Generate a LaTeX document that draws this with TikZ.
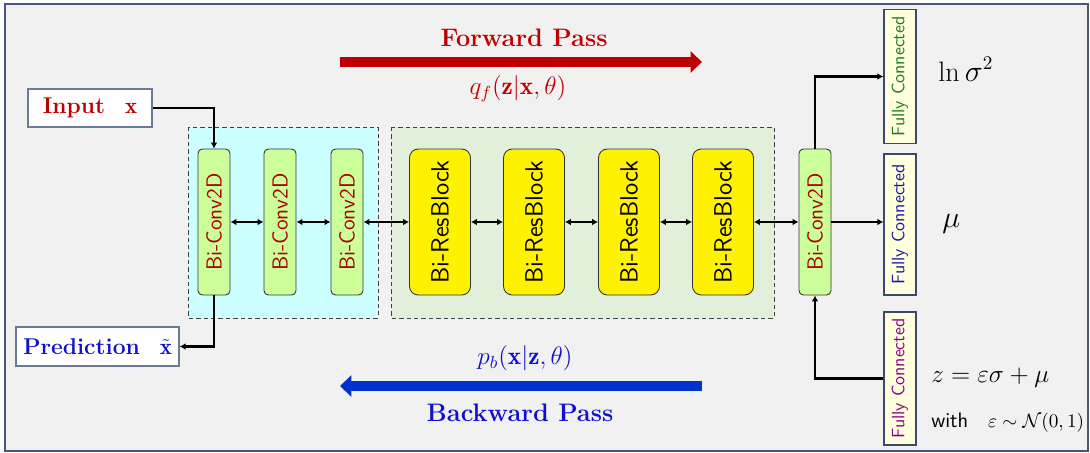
\documentclass[tikz,border=0pt]{standalone}
\usepackage{fontspec}
\usetikzlibrary{arrows.meta}

\definecolor{bgfill}{HTML}{F1F1F1}
\definecolor{framecol}{HTML}{46587A}
\definecolor{cyanzone}{HTML}{CCFFFF}
\definecolor{greenzone}{HTML}{E2EFDA}
\definecolor{convfill}{HTML}{CCFF99}
\definecolor{convtext}{HTML}{A80000}
\definecolor{fcfill}{HTML}{FFFFDD}
\definecolor{fcborder}{HTML}{3A4A6A}
\definecolor{fcgreen}{HTML}{1F7A1F}
\definecolor{fcblue}{HTML}{1A1AA0}
\definecolor{fcpurple}{HTML}{8B008B}
\definecolor{boxborder}{HTML}{6B7B95}
\definecolor{fwdred}{HTML}{C00000}
\definecolor{bwdblue}{HTML}{0033CC}
\definecolor{predblue}{HTML}{1010D0}

\begin{document}
\begin{tikzpicture}[x=0.02cm,y=-0.02cm,
  zone/.style={draw=black!75, dashed, dash pattern=on 2.5pt off 1.7pt, line width=0.5pt},
  conv/.style={draw=black!80, fill=convfill, rounded corners=2.5pt, inner sep=0pt,
    minimum width=0.64cm, minimum height=2.92cm, line width=0.5pt},
  convlbl/.style={rotate=90, font=\sffamily\fontsize{12.4}{14}\selectfont, text=convtext},
  res/.style={draw=black!80, fill=yellow, rounded corners=5pt, inner sep=0pt,
    minimum width=1.22cm, minimum height=2.92cm, line width=0.5pt},
  reslbl/.style={rotate=90, font=\sffamily\fontsize{14.2}{16}\selectfont, text=black},
  fc/.style={draw=fcborder, fill=fcfill, inner sep=0pt, minimum width=0.64cm, line width=0.7pt},
  fclbl/.style={rotate=90, font=\sffamily\fontsize{10.2}{12}\selectfont},
  iobox/.style={draw=boxborder, fill=white, inner sep=0pt, line width=0.7pt},
  link/.style={line width=1.2pt, -{Latex[length=3.4pt,width=3.8pt]}},
  twoway/.style={line width=1.2pt, {Latex[length=3.4pt,width=3.8pt]}-{Latex[length=3.4pt,width=3.8pt]}},
  bigarrow/.style={line width=6pt, -{Triangle[length=6.5pt,width=12pt]}},
  note/.style={anchor=base west, inner sep=0pt}
]
% canvas and frame
\path[use as bounding box] (0,0) rectangle (1090,453);
\draw[line width=0.9pt, draw=framecol, fill=bgfill] (5,4) rectangle (1088,451);

% dashed zones
\draw[zone, fill=cyanzone] (188,127) rectangle (378,318);
\draw[zone, fill=greenzone] (391,127) rectangle (774,318);

% convolution blocks
\node[conv, label={[convlbl]center:Bi-Conv2D}] (c1) at (214,222) {};
\node[conv, label={[convlbl]center:Bi-Conv2D}] (c2) at (280,222) {};
\node[conv, label={[convlbl]center:Bi-Conv2D}] (c3) at (347,222) {};

% residual blocks
\node[res, label={[reslbl]center:Bi-ResBlock}] (r1) at (440,222) {};
\node[res, label={[reslbl]center:Bi-ResBlock}] (r2) at (534,222) {};
\node[res, label={[reslbl]center:Bi-ResBlock}] (r3) at (629,222) {};
\node[res, label={[reslbl]center:Bi-ResBlock}] (r4) at (723,222) {};

% latent convolution
\node[conv, label={[convlbl]center:Bi-Conv2D}] (c4) at (815,222) {};

% fully connected heads
\node[fc, minimum height=2.68cm, label={[fclbl, text=fcgreen]center:Fully Connected}] (fvar) at (900,76.5) {};
\node[fc, minimum height=2.82cm, label={[fclbl, text=fcblue]center:Fully Connected}] (fmu) at (900,224.5) {};
\node[fc, minimum height=2.66cm, label={[fclbl, text=fcpurple]center:Fully Connected}] (fz) at (900,378.5) {};

% input and output boxes
\node[iobox, minimum width=2.48cm, minimum height=0.76cm,
  font=\bfseries\fontsize{13}{15}\selectfont, text=fwdred] (inp) at (90,108) {Input\enspace\ $\mathbf{x}$};
\node[iobox, minimum width=3.26cm, minimum height=0.78cm,
  font=\bfseries\fontsize{13}{15}\selectfont, text=predblue] (pred) at (97.5,346.5) {Prediction\enspace\ $\tilde{\mathbf{x}}$};

% connectors
\draw[link] (inp.east) -| (c1.north);
\draw[link] (c1.south) |- (pred.east);
\draw[twoway] (c1) -- (c2);
\draw[twoway] (c2) -- (c3);
\draw[twoway] (c3) -- (r1);
\draw[twoway] (r1) -- (r2);
\draw[twoway] (r2) -- (r3);
\draw[twoway] (r3) -- (r4);
\draw[twoway] (r4) -- (c4);
\draw[link] (c4.north) |- (fvar.west);
\draw[link] (c4.east) -- (c4.east -| fmu.west);
\draw[link] (fz.west) -| (c4.south);

% forward and backward pass arrows
\coordinate (fwdA) at (340,62);
\coordinate (fwdB) at (702,62);
\coordinate (bwdA) at (702,386);
\coordinate (bwdB) at (340,386);
\draw[bigarrow, draw=fwdred, fill=fwdred] (fwdA) -- (fwdB);
\draw[bigarrow, draw=bwdblue, fill=bwdblue] (bwdA) -- (bwdB);

\node[font=\bfseries\Large, text=fwdred] (fwdtxt) at (524,38) {Forward Pass};
\node[font=\Large, text=fwdred] (qf) at (518,89) {$q_f(\mathbf{z}|\mathbf{x},\theta)$};
\node[font=\Large, text=predblue] (pb) at (525,358) {$p_b(\mathbf{x}|\mathbf{z},\theta)$};
\node[font=\bfseries\Large, text=predblue] (bwdtxt) at (520,413) {Backward Pass};

% latent variable annotations
\node[note, font=\fontsize{16}{19}\selectfont] (lnvar) at (938,81) {$\ln\sigma^2$};
\node[note, font=\fontsize{16}{19}\selectfont] (mulbl) at (942,227) {$\mu$};
\node[note, font=\fontsize{14.5}{17}\selectfont] (zeq) at (931,382) {$z=\varepsilon\sigma+\mu$};
\node[note, font=\fontsize{11.3}{13}\selectfont] (eps) at (931,427)
  {{\sffamily\fontsize{12}{14}\selectfont with}\quad$\varepsilon\sim\mathcal{N}(0,1)$};
\end{tikzpicture}
\end{document}
